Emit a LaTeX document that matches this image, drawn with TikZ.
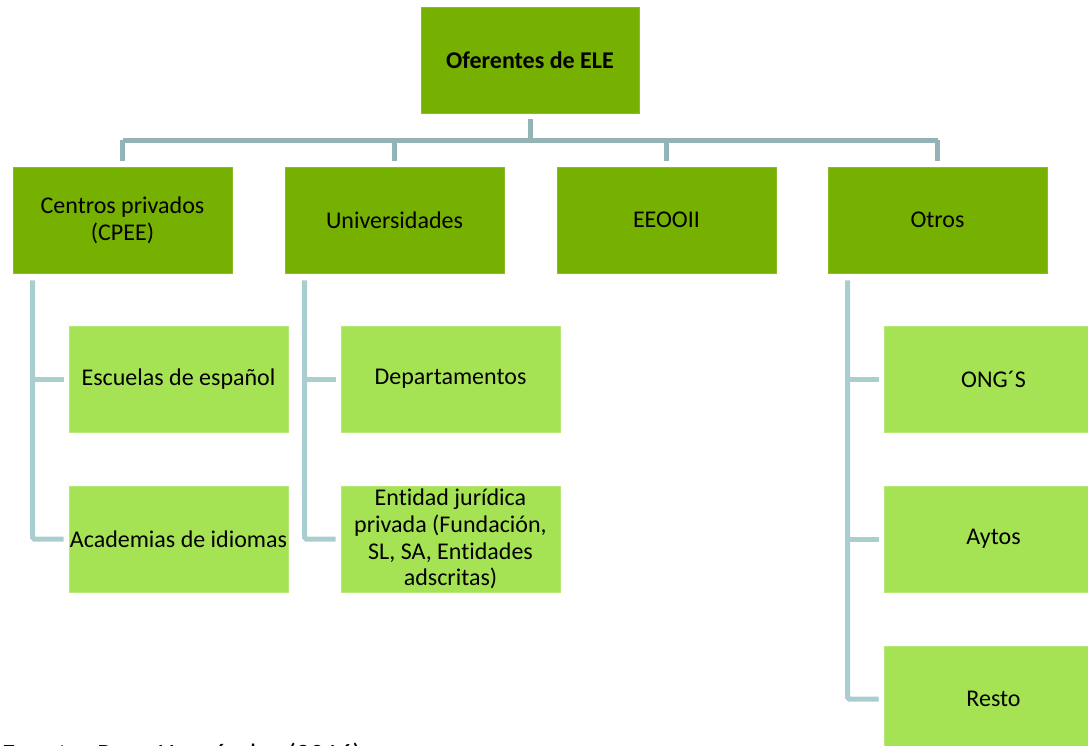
\documentclass[tikz,border=0pt]{standalone}
\usepackage{fontspec}
\setmainfont[Ligatures=NoCommon]{Carlito}
\begin{document}
\begin{tikzpicture}[x=1pt,y=-1pt,
  every node/.style={font=\fontsize{24}{26.8}\selectfont, text=black},
  boxbase/.style={rectangle, minimum width=219pt, minimum height=106pt,
    inner sep=0pt, align=center},
  topbox/.style={boxbase, fill=darkgreen, draw=darkgreen!85!white, line width=0.6pt},
  subbox/.style={boxbase, fill=lightgreen, draw=lightgreen!80!white, line width=0.6pt},
  busline/.style={draw=busgray, line width=5pt},
  branch/.style={draw=branchgray, line width=5pt, rounded corners=1.5pt}
]
\definecolor{darkgreen}{HTML}{76B000}
\definecolor{lightgreen}{HTML}{A6E354}
\definecolor{busgray}{HTML}{94B3B6}
\definecolor{branchgray}{HTML}{AACDD0}

\useasboundingbox (0,0) rectangle (1088,746);
\clip (0,0) rectangle (1088,746);

% root
\node[topbox, minimum width=218pt, font=\fontsize{24}{26.8}\selectfont\bfseries] (root) at (530,60) {Oferentes de ELE};

% first level
\node[topbox] (cpee) at (122.5,220) {Centros privados\\(CPEE)};
\node[topbox] (univ) at (394.5,220) {Universidades};
\node[topbox] (eeoo) at (666.5,220) {EEOOII};
\node[topbox] (otros) at (937.5,220) {Otros};

% second level
\node[subbox] (esc) at (178.5,379) {Escuelas de español};
\node[subbox] (acad) at (178.5,539) {Academias de idiomas};
\node[subbox] (dep) at (450.5,379) {Departamentos};
\node[subbox] (ent) at (450.5,539) {Entidad jurídica\\privada (Fundación,\\SL, SA, Entidades\\adscritas)};
\node[subbox] (ong) at (993.5,379) {ONG´S};
\node[subbox] (ayt) at (993.5,539) {Aytos};
\node[subbox] (rest) at (993.5,699) {Resto};

% bus from the root to the first level (canvas shifts point upwards, so negative)
\coordinate (bus) at ([yshift=-27pt]root.south);
\draw[busline, shorten <=6pt] (root.south) -- (bus);
\draw[busline] (bus -| cpee.north) -- (bus -| otros.north);
\foreach \n in {cpee,univ,eeoo,otros}
  \draw[busline, shorten >=6pt] (bus -| \n.north) -- (\n.north);

% spines hanging below the first-level boxes
\coordinate (sp1) at ([xshift=20pt,yshift=-7pt]cpee.south west);
\coordinate (sp2) at ([xshift=20pt,yshift=-7pt]univ.south west);
\coordinate (sp4) at ([xshift=20pt,yshift=-7pt]otros.south west);

% branches to the second level
\draw[branch, shorten >=5pt] (sp1) |- (acad.west);
\draw[branch, shorten >=5pt] (esc.west -| sp1) -- (esc.west);

\draw[branch, shorten >=5pt] (sp2) |- (ent.west);
\draw[branch, shorten >=5pt] (dep.west -| sp2) -- (dep.west);

\draw[branch, shorten >=5pt] (sp4) |- (rest.west);
\draw[branch, shorten >=5pt] (ong.west -| sp4) -- (ong.west);
\draw[branch, shorten >=5pt] (ayt.west -| sp4) -- (ayt.west);

% source line
\node[anchor=base west, inner sep=0pt, font=\fontsize{28}{32}\selectfont] (src) at (2,763) {Fuente: Pons Hernández (2016)};
\end{tikzpicture}
\end{document}
